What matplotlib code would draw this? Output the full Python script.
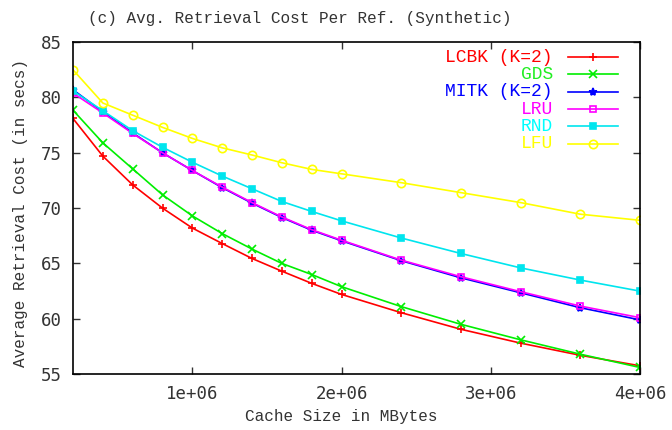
import numpy as np
import matplotlib.pyplot as plt

# cache size (x) and avg retrieval cost per policy
cache_size = [200000, 400000, 600000, 800000, 1000000, 1200000, 1400000, 1600000,
              1800000, 2000000, 2400000, 2800000, 3200000, 3600000, 4000000]
lcbk = [78.1, 74.7, 72.1, 70.0, 68.2, 66.8, 65.45, 64.3, 63.2, 62.2, 60.55, 59.05, 57.8, 56.7, 55.75]
gds = [78.85, 75.9, 73.55, 71.2, 69.3, 67.7, 66.3, 65.0, 64.0, 62.9, 61.1, 59.5, 58.1, 56.8, 55.6]
mitk = [80.7, 78.7, 76.8, 75.0, 73.4, 71.85, 70.45, 69.15, 68.0, 67.05, 65.25, 63.7, 62.35, 61.0, 59.9]
lru = [80.4, 78.6, 76.75, 75.0, 73.4, 71.9, 70.5, 69.2, 68.05, 67.1, 65.3, 63.8, 62.45, 61.15, 60.1]
rnd = [80.6, 78.8, 77.0, 75.5, 74.15, 72.9, 71.75, 70.6, 69.7, 68.85, 67.3, 65.9, 64.6, 63.5, 62.5]
lfu = [82.5, 79.5, 78.4, 77.3, 76.3, 75.45, 74.8, 74.1, 73.5, 73.1, 72.3, 71.4, 70.5, 69.45, 68.9]

labels = ['LCBK (K=2)', 'GDS', 'MITK (K=2)', 'LRU', 'RND', 'LFU']
colors = ['#ff0000', '#00ee00', '#0000ff', '#ff00ff', '#00e5ee', '#ffff00']
text_colors = ['#ff0000', '#22ee22', '#0000ff', '#ff00ff', '#00ffff', '#ffff00']
markers = ['+', 'x', '*', 's', 's', 'o']
filled = [True, True, True, False, True, False]

xticks = [1000000, 2000000, 3000000, 4000000]
xticklabels = ['1e+06', '2e+06', '3e+06', '4e+06']
yticks = [55, 60, 65, 70, 75, 80, 85]

fig = plt.figure(figsize=(6.72, 4.3), dpi=100)
ax = fig.add_axes([0.1086, 0.130, 0.8437, 0.772])

series = [lcbk, gds, mitk, lru, rnd, lfu]
for ys, c, m, f in zip(series, colors, markers, filled):
    ax.plot(cache_size, ys, color=c, lw=1.2, marker=m, ms=6 if m != 's' else 5,
            mfc=c if f else 'none', mec=c, mew=1.2)

ax.set_xlim(200000, 4000000)
ax.set_ylim(55, 85)
ax.set_xticks(xticks)
ax.set_xticklabels(xticklabels)
ax.set_yticks(yticks)
ax.tick_params(direction='in', top=True, right=True, length=5, width=1,
               labelsize=12.5, colors='#333333', pad=8)
for t in ax.get_xticklabels() + ax.get_yticklabels():
    t.set_family('DejaVu Sans Mono')
    t.set_color('#333333')
for s in ax.spines.values():
    s.set_linewidth(1.2)

ax.set_title('(c) Avg. Retrieval Cost Per Ref. (Synthetic)', family='Liberation Mono',
             fontsize=11.5, color='#333333', pad=14, x=0.40)
ax.set_xlabel('Cache Size in MBytes', family='Liberation Mono', fontsize=11.5,
              color='#333333')
ax.xaxis.set_label_coords(0.474, -0.105)
ax.xaxis.label.set_va('top')
ax.set_ylabel('Average Retrieval Cost (in secs)', family='Liberation Mono', fontsize=11.5,
              color='#333333')
ax.yaxis.set_label_coords(-0.079, 0.485)

# gnuplot-style key: right aligned text, sample line on the right
for i, (lab, c, tc, m, f) in enumerate(zip(labels, colors, text_colors, markers, filled)):
    yk = (374 - (57 + 17.3 * i)) / 332
    ax.text((553 - 73) / 567, yk, lab, transform=ax.transAxes, ha='right', va='center',
            family='Liberation Mono', fontsize=13, color=tc)
    ax.plot([(568 - 73) / 567, (618 - 73) / 567], [yk, yk], transform=ax.transAxes,
            color=c, lw=1.2, clip_on=False)
    ax.plot([(593 - 73) / 567], [yk], transform=ax.transAxes, color=c, marker=m,
            ms=6 if m != 's' else 5, mfc=c if f else 'none', mec=c, mew=1.2, clip_on=False)

fig.savefig('out.png', dpi=100)
